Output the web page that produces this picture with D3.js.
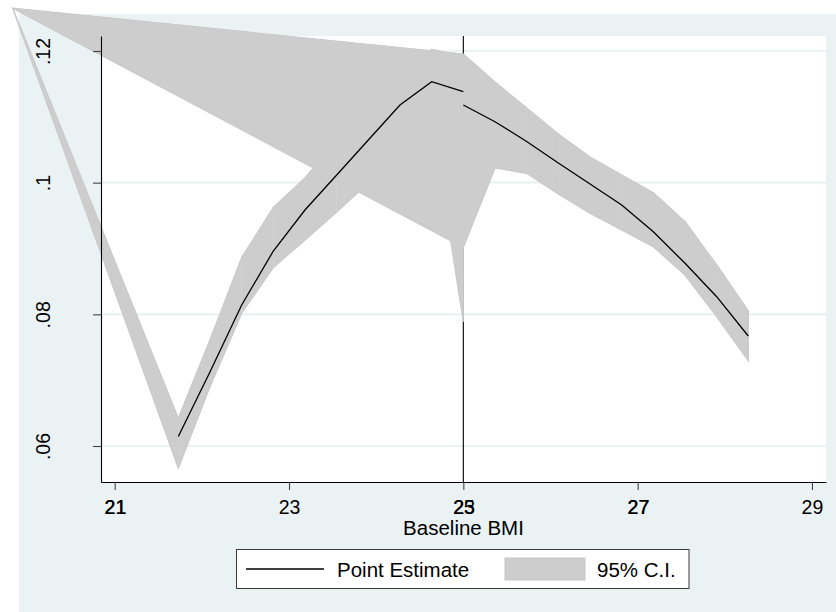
<!DOCTYPE html>
<html><head><meta charset="utf-8">
<script src="https://cdn.jsdelivr.net/npm/d3@7/dist/d3.min.js"></script>
<style>
body{margin:0;background:#fff}
svg text{font-family:"Liberation Sans",Arial,Helvetica,sans-serif;fill:#000}
</style>
</head><body>
<svg id="chart" width="836" height="612"></svg>
<script>
// ---- data ----
const leftX   = [21.73, 22.093, 22.457, 22.82, 23.183, 23.547, 23.91, 24.273, 24.637, 25.0];
const leftEst = [0.06144, 0.07124, 0.08142, 0.08962, 0.09585, 0.10116, 0.10648, 0.1118, 0.11534, 0.11382];
const leftLo  = [0.05666, 0.06901, 0.08016, 0.08711, 0.09129, 0.09554, 0.09995, 0.10496, 0.10982, 0.07888];
const leftHi  = [0.06421, 0.0761, 0.08863, 0.09623, 0.10071, 0.10648, 0.1118, 0.11681, 0.12026, 0.11924];

const rightX   = [25.0, 25.363, 25.727, 26.09, 26.454, 26.817, 27.18, 27.544, 27.907, 28.269];
const rightEst = [0.1118, 0.10926, 0.10625, 0.10299, 0.0998, 0.09661, 0.09255, 0.08775, 0.08268, 0.07671];
const rightLo  = [0.09018, 0.10223, 0.10142, 0.09828, 0.09535, 0.09281, 0.09027, 0.08597, 0.07964, 0.07296];
const rightHi  = [0.11954, 0.11529, 0.11134, 0.10739, 0.1039, 0.10116, 0.09848, 0.09407, 0.0875, 0.08055];

// stray observation in the CI series (plotted outside the axes)
const strayX = 19.83, strayLo = 0.12649, strayHi = 0.12649;

const yTicks = [0.06, 0.08, 0.1, 0.12];
const yTickLabels = [".06", ".08", ".1", ".12"];
const xTicks = [21, 23, 25, 27, 29];
const xTickLabels = ["21", "23", "25", "27", "29"];
const xTicks2 = [21, 25, 27];
const xTickLabels2 = ["21", "23", "27"];
const xLineAt = 25;
const xTitle = "Baseline BMI";
const legendLabels = ["Point Estimate", "95% C.I."];

// ---- layout ----
const svg = d3.select("#chart");
const plot = {l: 101, r: 826, t: 36, b: 482};
const x = d3.scaleLinear().domain([20.843, 29.161]).range([plot.l, plot.r]);
const y = d3.scaleLinear().domain([0.054532, 0.122278]).range([plot.b, plot.t]);

svg.append("rect").attr("x", 0).attr("y", 0).attr("width", 836).attr("height", 612).attr("fill", "#fff");
svg.append("rect").attr("x", 19).attr("y", 14).attr("width", 817).attr("height", 598).attr("fill", "#eaf2f3");
svg.append("rect").attr("x", plot.l).attr("y", plot.t).attr("width", plot.r - plot.l).attr("height", plot.b - plot.t).attr("fill", "#fff");

// gridlines
svg.append("g").selectAll("line").data(yTicks).join("line")
  .attr("x1", plot.l).attr("x2", plot.r)
  .attr("y1", d => y(d)).attr("y2", d => y(d))
  .attr("stroke", "#e6eff0").attr("stroke-width", 1.6);

// xline
svg.append("line").attr("x1", x(xLineAt)).attr("x2", x(xLineAt))
  .attr("y1", plot.t).attr("y2", plot.b).attr("stroke", "#000").attr("stroke-width", 1.1);

// CI rows in plotting order
const rows = [];
for (let i = leftX.length - 1; i >= 0; i--) rows.push({x: leftX[i], lo: leftLo[i], hi: leftHi[i]});
rows.push({x: strayX, lo: strayLo, hi: strayHi});
for (let i = 0; i < rightX.length; i++) rows.push({x: rightX[i], lo: rightLo[i], hi: rightHi[i]});

const area = d3.area().x(d => x(d.x)).y0(d => y(d.lo)).y1(d => y(d.hi));
const ciG = svg.append("g");
// faint outline of the full polygon
ciG.append("path").attr("d", area(rows)).attr("fill", "none").attr("stroke", "#c3c3c3").attr("stroke-width", 1.2);
for (let i = 0; i < rows.length - 1; i++) {
  ciG.append("path").attr("d", area([rows[i], rows[i + 1]]))
    .attr("fill", "#cdcdcd").attr("stroke", "#cdcdcd").attr("stroke-width", 0.4);
}

// estimate lines
const line = d3.line().x(d => x(d[0])).y(d => y(d[1]));
svg.append("path").attr("d", line(leftX.map((v, i) => [v, leftEst[i]])))
  .attr("fill", "none").attr("stroke", "#000").attr("stroke-width", 1.3);
svg.append("path").attr("d", line(rightX.map((v, i) => [v, rightEst[i]])))
  .attr("fill", "none").attr("stroke", "#000").attr("stroke-width", 1.3);

// y axis
const yAxis = svg.append("g").attr("transform", `translate(${plot.l},0)`)
  .call(d3.axisLeft(y).tickValues(yTicks).tickFormat((d, i) => yTickLabels[i]).tickSize(8).tickSizeOuter(0));
yAxis.select(".domain").attr("stroke", "#000").attr("stroke-width", 1.1);
yAxis.selectAll(".tick line").attr("stroke", "#444").attr("stroke-width", 1.1);
yAxis.selectAll(".tick text").attr("x", 0).attr("y", 0).attr("dy", 0)
  .attr("text-anchor", "middle").attr("transform", "translate(-51,0) rotate(-90)")
  .style("font-size", "19.5px").attr("fill", "#000");

// x axis
const xAxis = svg.append("g").attr("transform", `translate(0,${plot.b})`)
  .call(d3.axisBottom(x).tickValues(xTicks).tickFormat((d, i) => xTickLabels[i]).tickSize(8).tickSizeOuter(0));
xAxis.select(".domain").attr("stroke", "#000").attr("stroke-width", 1.1);
xAxis.selectAll(".tick line").attr("stroke", "#444").attr("stroke-width", 1.1);
xAxis.selectAll(".tick text").attr("y", 32).attr("dy", 0).style("font-size", "19.5px").attr("fill", "#000");

// overprinted labels
const xAxis2 = svg.append("g").attr("transform", `translate(0.5,${plot.b})`)
  .call(d3.axisBottom(x).tickValues(xTicks2).tickFormat((d, i) => xTickLabels2[i]).tickSize(0).tickSizeOuter(0));
xAxis2.select(".domain").remove();
xAxis2.selectAll(".tick text").attr("y", 32).attr("dy", 0).style("font-size", "19.5px").attr("fill", "#000");

// x title
svg.append("text").attr("x", (plot.l + plot.r) / 2).attr("y", 535).attr("text-anchor", "middle")
  .style("font-size", "20.5px").text(xTitle);

// legend
const lg = svg.append("g");
lg.append("rect").attr("x", 236.5).attr("y", 549.5).attr("width", 452.5).attr("height", 39)
  .attr("fill", "#fff").attr("stroke", "#3a3a3a").attr("stroke-width", 1);
lg.append("line").attr("x1", 246).attr("x2", 324).attr("y1", 569).attr("y2", 569)
  .attr("stroke", "#000").attr("stroke-width", 1.3);
lg.append("text").attr("x", 337).attr("y", 576.5).style("font-size", "20.5px").text(legendLabels[0]);
lg.append("rect").attr("x", 505).attr("y", 558).attr("width", 80).attr("height", 22)
  .attr("fill", "#cdcdcd").attr("stroke", "#c6c6c6").attr("stroke-width", 1);
lg.append("text").attr("x", 597).attr("y", 576.5).style("font-size", "20.5px").text(legendLabels[1]);
</script>
</body></html>
